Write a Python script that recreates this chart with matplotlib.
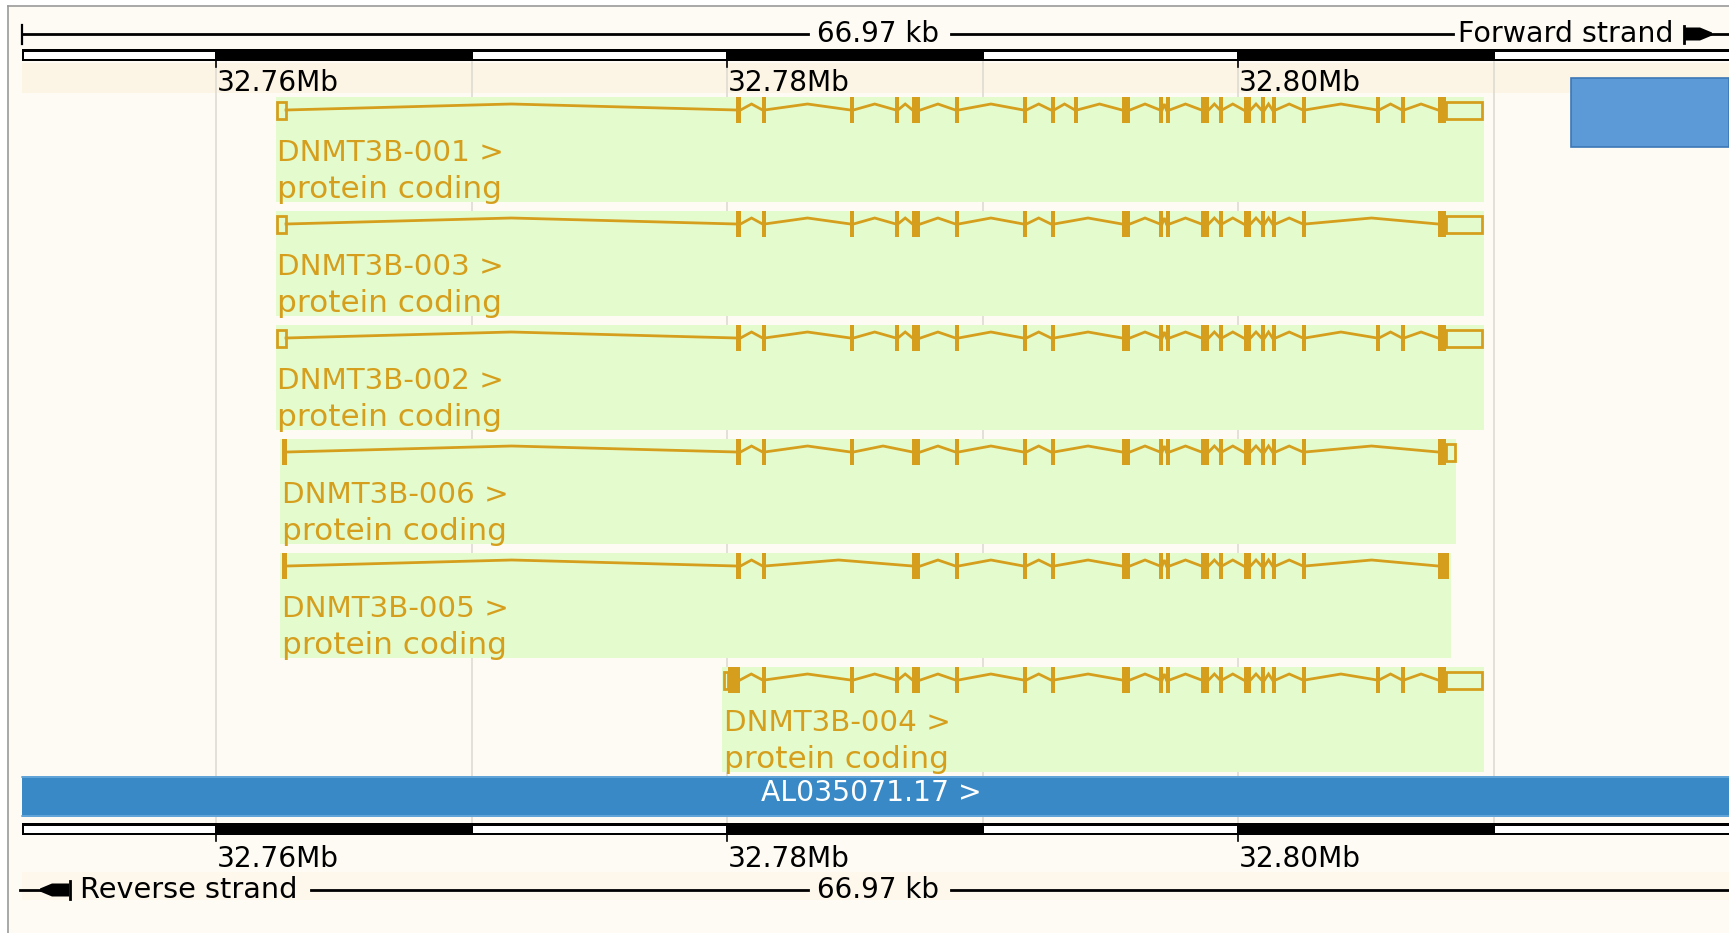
import matplotlib
matplotlib.use("Agg")
import matplotlib.pyplot as plt
from matplotlib.patches import Rectangle, Polygon

# ---------------- data ----------------
region_kb = 66.97
view_start_mb = 32.75241
tick_mb = [32.76, 32.78, 32.80]
tick_labels = ["32.76Mb", "32.78Mb", "32.80Mb"]
grid_mb = [32.76, 32.77, 32.78, 32.79, 32.80, 32.81]

transcript_names = ["DNMT3B-001", "DNMT3B-003", "DNMT3B-002",
                    "DNMT3B-006", "DNMT3B-005", "DNMT3B-004"]
biotype = "protein coding"

exon_start = [32.78037, 32.78139, 32.78483, 32.78661, 32.78726, 32.78894, 32.79160,
              32.79268, 32.79362, 32.79546, 32.79695, 32.79720, 32.79857, 32.79930,
              32.80022, 32.80092, 32.80135, 32.80254, 32.80544, 32.80642, 32.80783]
exon_end = [32.78053, 32.78147, 32.78495, 32.78669, 32.78757, 32.78906, 32.79172,
            32.79280, 32.79370, 32.79577, 32.79703, 32.79732, 32.79885, 32.79937,
            32.80049, 32.80104, 32.80147, 32.80262, 32.80552, 32.80650, 32.80814]

exons_001 = list(range(21))
exons_003 = [i for i in range(21) if i not in (8, 18, 19)]
exons_002 = [i for i in range(21) if i not in (8,)]
exons_006 = [i for i in range(21) if i not in (3, 8, 18, 19)]
exons_005 = [i for i in range(20) if i not in (2, 3, 8, 18, 19)]
exons_004 = [i for i in range(21) if i not in (0, 8)]

extra_coding = {
    "DNMT3B-006": [(32.76258, 32.76278)],
    "DNMT3B-005": [(32.76258, 32.76278), (32.80783, 32.80826)],
    "DNMT3B-004": [(32.78004, 32.78051)],
}
utr_boxes = {
    "DNMT3B-001": [(32.76239, 32.76274), (32.80814, 32.80955)],
    "DNMT3B-003": [(32.76239, 32.76274), (32.80814, 32.80955)],
    "DNMT3B-002": [(32.76239, 32.76274), (32.80814, 32.80955)],
    "DNMT3B-006": [(32.80814, 32.80849)],
    "DNMT3B-005": [],
    "DNMT3B-004": [(32.77988, 32.78004), (32.80814, 32.80955)],
}
exon_sets = [exons_001, exons_003, exons_002, exons_006, exons_005, exons_004]
contig_name = "AL035071.17 >"

# ---------------- layout ----------------
W, H, DPI = 1729, 933, 100
PPM = 25550.0                      # pixels per Mb
X0 = 32.76 - 216 / PPM             # Mb at pixel 0


def px(x):
    return X0 + x / PPM


GOLD = "#d59f1d"
GREEN = "#e4fccd"
BG = "#fdfbf4"
BAND = "#fcf4e4"
BAND2 = "#fdf7ec"

fig = plt.figure(figsize=(W / DPI, H / DPI), dpi=DPI)
fig.patch.set_facecolor("white")
ax = fig.add_axes([0, 0, 1, 1])
ax.set_xlim(px(0), px(W))
ax.set_ylim(H, 0)
ax.axis("off")

view_end_mb = view_start_mb + region_kb / 1000.0

# background + frame
ax.add_patch(Rectangle((px(8), 6), px(W) - px(8), H, facecolor=BG, edgecolor="none", zorder=0))
ax.plot([px(8), px(8)], [6, H], color="#9a9a9a", lw=1.2, zorder=1)
ax.plot([px(8), px(W)], [6, 6], color="#9a9a9a", lw=1.2, zorder=1)
ax.add_patch(Rectangle((view_start_mb, 63), view_end_mb - view_start_mb, 30,
                       facecolor=BAND, edgecolor="none", zorder=0.5))
ax.add_patch(Rectangle((view_start_mb, 872), view_end_mb - view_start_mb, 28,
                       facecolor=BAND2, edgecolor="none", zorder=0.5))

# vertical grid lines
for g in grid_mb:
    ax.plot([g, g], [62, 826], color="#dedbd3", lw=1.2, zorder=0.8)


def scale_bar(y0, y1, tick_down_to, label_y):
    ax.add_patch(Rectangle((view_start_mb, y0), view_end_mb - view_start_mb, y1 - y0,
                           facecolor="black", edgecolor="none", zorder=3))
    edges = [view_start_mb] + list(grid_mb) + [view_end_mb]
    for i in range(len(edges) - 1):
        a, c = edges[i], edges[i + 1]
        if i % 2 == 0:
            ax.add_patch(Rectangle((a + 1.5 / PPM, y0 + 2.5), c - a - 3 / PPM, y1 - y0 - 5,
                                   facecolor="white", edgecolor="none", zorder=4))
    for t, lab in zip(tick_mb, tick_labels):
        ax.plot([t, t], [y1, tick_down_to], color="black", lw=1.2, zorder=4)
        ax.text(t + 1 / PPM, label_y, lab, fontsize=20.2, color="black",
                ha="left", va="baseline", zorder=5)


scale_bar(49, 61, 67, 91)
scale_bar(823, 835, 841, 867)

# top distance line
ax.plot([view_start_mb, view_start_mb], [25, 44], color="black", lw=1.6, zorder=3)
ax.plot([view_start_mb, px(808)], [34, 34], color="black", lw=2.0, zorder=3)
ax.text(px(878), 34, f"{region_kb:.2f} kb", fontsize=20, ha="center", va="center", zorder=5)
ax.plot([px(951), px(1453)], [34, 34], color="black", lw=2.0, zorder=3)
ax.text(px(1458), 34, "Forward strand", fontsize=20.5, ha="left", va="center", zorder=5)
ax.plot([px(1684), px(1684)], [26, 43], color="black", lw=2.0, zorder=4)
ax.add_patch(Polygon([(px(1685), 27.5), (px(1700), 27.5), (px(1712), 32.5), (px(1712), 35.5),
                      (px(1700), 40.5), (px(1685), 40.5)], closed=True,
                     facecolor="black", edgecolor="none", zorder=4))
ax.plot([px(1708), px(W)], [34, 34], color="black", lw=2.0, zorder=3)

# bottom distance line
ax.plot([px(20), px(44)], [890, 890], color="black", lw=2.0, zorder=3)
ax.add_patch(Polygon([(px(40), 888.5), (px(40), 891.5), (px(52), 896.5), (px(69), 896.5),
                      (px(69), 883.5), (px(52), 883.5)], closed=True,
                     facecolor="black", edgecolor="none", zorder=4))
ax.plot([px(70), px(70)], [881, 899], color="black", lw=2.0, zorder=4)
ax.text(px(80), 890, "Reverse strand", fontsize=20.7, ha="left", va="center", zorder=5)
ax.plot([px(311), px(808)], [890, 890], color="black", lw=2.0, zorder=3)
ax.text(px(878), 890, f"{region_kb:.2f} kb", fontsize=20, ha="center", va="center", zorder=5)
ax.plot([px(951), px(W)], [890, 890], color="black", lw=2.0, zorder=3)

# transcripts
ROW0, ROWSTEP = 110, 114
EXON_H, UTR_H, PEAK = 26, 17, 6
MINW = 4 / PPM
for r, (name, idxs) in enumerate(zip(transcript_names, exon_sets)):
    y = ROW0 + r * ROWSTEP
    feats = [(exon_start[i], exon_end[i], "c") for i in idxs]
    feats += [(a, b, "c") for a, b in extra_coding.get(name, [])]
    feats += [(a, b, "u") for a, b in utr_boxes.get(name, [])]
    feats.sort()
    t0 = min(f[0] for f in feats)
    t1 = max(f[1] for f in feats)
    ax.add_patch(Rectangle((t0 - 1.5 / PPM, y - 13), t1 - t0 + 3 / PPM, 105,
                           facecolor=GREEN, edgecolor="none", zorder=1))
    # introns
    for (a0, a1, _), (b0, b1, _) in zip(feats[:-1], feats[1:]):
        if b0 - a1 > 1 / PPM:
            m = (a1 + b0) / 2
            ax.plot([a1, m, b0], [y, y - PEAK, y], color=GOLD, lw=2.0, zorder=2,
                    solid_joinstyle="miter")
    for a, b, k in feats:
        if k == "c":
            w = max(b - a, MINW)
            c = (a + b) / 2
            ax.add_patch(Rectangle((c - w / 2, y - EXON_H / 2), w, EXON_H,
                                   facecolor=GOLD, edgecolor="none", zorder=3))
        else:
            ax.add_patch(Rectangle((a, y - UTR_H / 2), b - a, UTR_H,
                                   facecolor="none", edgecolor=GOLD, lw=2.0, zorder=3))
    ax.text(t0, y + 51, f"{name} >", fontsize=21.2, color=GOLD, ha="left",
            va="baseline", zorder=5)
    ax.text(t0, y + 88, biotype, fontsize=22.4, color=GOLD, ha="left",
            va="baseline", zorder=5)

# contig bar
ax.add_patch(Rectangle((view_start_mb, 776), px(W) - view_start_mb, 41,
                       facecolor="#3889c6", edgecolor="none", zorder=2))
ax.plot([view_start_mb, px(W)], [777, 777], color="#6aaadc", lw=1.2, zorder=3)
ax.plot([view_start_mb, px(W)], [816, 816], color="#6aaadc", lw=1.2, zorder=3)
ax.text(px(761), 793, contig_name, fontsize=20.3, color="white", ha="left",
        va="center", zorder=5)

# top-right feature
ax.add_patch(Rectangle((px(1571), 78), px(W) - px(1571), 69,
                       facecolor="#5b9ad6", edgecolor="#3c78b6", lw=1.2, zorder=2))

fig.savefig("out.png", dpi=DPI, facecolor=fig.get_facecolor())
